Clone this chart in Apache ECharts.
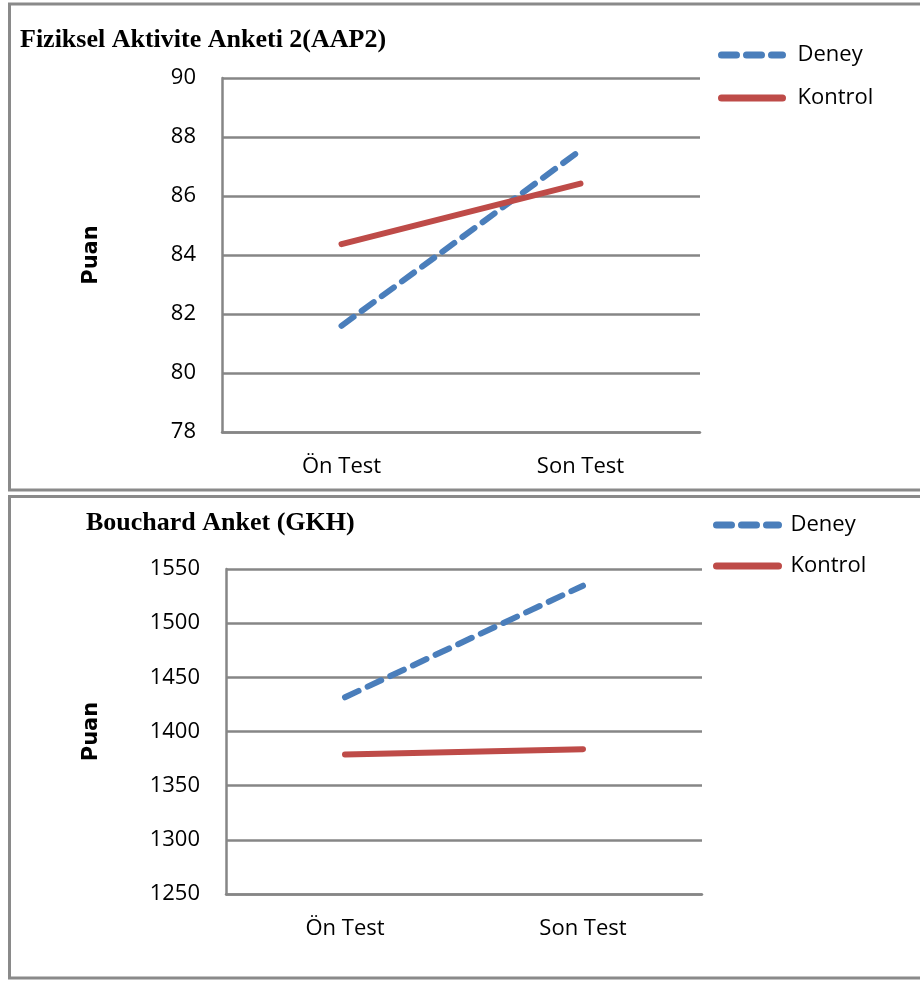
<!DOCTYPE html>
<html>
<head>
<meta charset="utf-8">
<script src="https://cdn.jsdelivr.net/npm/echarts@6/dist/echarts.min.js"></script>
<style>
html,body{margin:0;padding:0;background:#fff;overflow:hidden;}
#chart{width:920px;height:981px;}
</style>
</head>
<body>
<div id="chart"></div>
<script>
// ---- data ----
const categories = ['Ön Test', 'Son Test'];
const seriesNames = ['Deney', 'Kontrol'];
const title1 = 'Fiziksel Aktivite Anketi 2(AAP2)';
const title2 = 'Bouchard Anket (GKH)';
const yName = 'Puan';
const aapDeney = [81.6, 87.55];
const aapKontrol = [84.37, 86.42];
const gkhDeney = [1431.6, 1534.6];
const gkhKontrol = [1378.8, 1383.7];
const aapTicks = [78, 80, 82, 84, 86, 88, 90];
const gkhTicks = [1250, 1300, 1350, 1400, 1450, 1500, 1550];

// ---- styles ----
const BLUE = '#4a7ebb';
const RED = '#be4b48';
const GRID = '#868686';
const FONT = 'Open Sans';

const chart = echarts.init(document.getElementById('chart'), null, {renderer: 'canvas'});

function xAxis(gi) {
  return {
    type: 'category', gridIndex: gi, data: categories, boundaryGap: true,
    axisLine: {show: true, lineStyle: {color: GRID, width: 2.5}},
    axisTick: {show: false},
    axisLabel: {color: '#000', fontFamily: FONT, fontSize: 22, margin: 24}
  };
}
function yAxis(gi, ticks, gap) {
  return {
    type: 'value', gridIndex: gi,
    min: ticks[0], max: ticks[ticks.length - 1], interval: ticks[1] - ticks[0],
    name: yName, nameLocation: 'middle', nameGap: gap, nameRotate: 90,
    nameTextStyle: {color: '#000', fontFamily: 'DejaVu Sans', fontWeight: 'bold', fontSize: 21},
    axisLine: {show: true, lineStyle: {color: GRID, width: 2.5}},
    axisTick: {show: false},
    axisLabel: {color: '#000', fontFamily: FONT, fontSize: 22, margin: 26,
                formatter: function (v) { return String(v); }},
    splitLine: {show: true, lineStyle: {color: GRID, width: 2.5}}
  };
}
function line(name, data, gi, dashed) {
  return {
    name: name, type: 'line', xAxisIndex: gi, yAxisIndex: gi, data: data,
    symbol: 'none', showSymbol: false, silent: true, animation: false,
    lineStyle: {
      color: dashed ? BLUE : RED, width: 6, cap: 'round', join: 'round',
      type: dashed ? [15, 10] : 'solid'
    },
    itemStyle: {color: dashed ? BLUE : RED}
  };
}
function legend(left, top, gap, iw, tp) {
  return {
    orient: 'vertical', left: left, top: top, padding: 0,
    itemWidth: iw, itemHeight: 22, itemGap: gap,
    data: seriesNames,
    itemStyle: {opacity: 0},
    lineStyle: {width: 7, cap: 'round'},
    textStyle: {color: '#000', fontFamily: FONT, fontSize: 22, lineHeight: 22, padding: [0, 0, 0, tp]},
    selectedMode: false
  };
}

chart.setOption({
  animation: false,
  backgroundColor: '#fff',
  title: [
    {text: title1, left: 20, top: 27, padding: 0,
     textStyle: {fontFamily: 'Liberation Serif', fontWeight: 'bold', fontSize: 26, color: '#000'}},
    {text: title2, left: 86, top: 510, padding: 0,
     textStyle: {fontFamily: 'Liberation Serif', fontWeight: 'bold', fontSize: 26, color: '#000'}}
  ],
  legend: [legend(718, 44, 21, 61, 10), legend(713, 514, 19, 62, 7)],
  grid: [
    {left: 222, top: 78, width: 478, height: 354, containLabel: false},
    {left: 226, top: 569, width: 476, height: 325, containLabel: false}
  ],
  xAxis: [xAxis(0), xAxis(1)],
  yAxis: [yAxis(0, aapTicks, 120), yAxis(1, gkhTicks, 124)],
  series: [
    line(seriesNames[0], aapDeney, 0, true),
    line(seriesNames[1], aapKontrol, 0, false),
    line(seriesNames[0], gkhDeney, 1, true),
    line(seriesNames[1], gkhKontrol, 1, false)
  ],
  graphic: [
    {type: 'rect', silent: true, shape: {x: 9.5, y: 4, width: 1000, height: 486},
     style: {fill: 'none', stroke: '#8a8a8a', lineWidth: 3}},
    {type: 'rect', silent: true, shape: {x: 9.5, y: 496.5, width: 1000, height: 481.5},
     style: {fill: 'none', stroke: '#8a8a8a', lineWidth: 3}}
  ]
});
</script>
</body>
</html>
